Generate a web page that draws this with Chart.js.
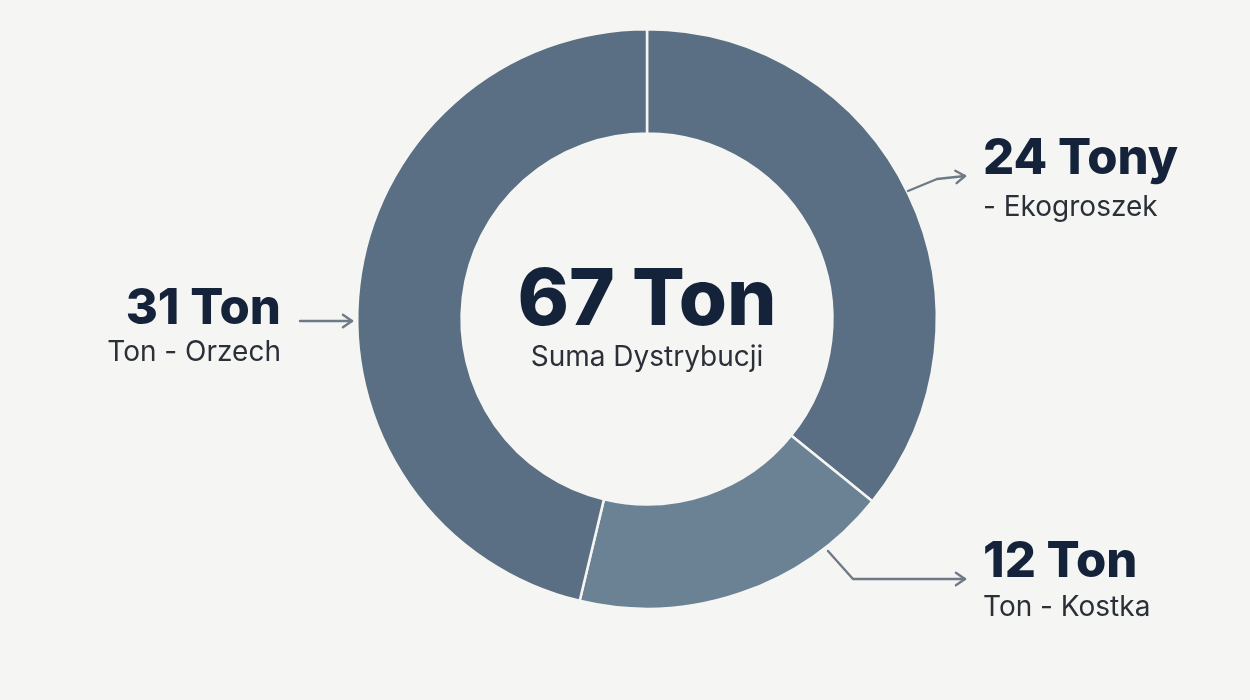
<!DOCTYPE html>
<html lang="pl">
<head>
<meta charset="utf-8">
<title>Suma Dystrybucji</title>
<script src="https://cdn.jsdelivr.net/npm/chart.js@4/dist/chart.umd.min.js"></script>
<style>
  html, body { margin: 0; padding: 0; background: #f5f5f3; }
  #wrap { position: relative; width: 1250px; height: 700px; }
</style>
</head>
<body>
<div id="wrap"><canvas id="donut"></canvas></div>
<script>
// ---- data ----
const categories  = ['Ekogroszek', 'Kostka', 'Orzech'];
const tons        = [24, 12, 31];
const valueLabels = ['24 Tony', '12 Ton', '31 Ton'];
const subLabels   = ['- Ekogroszek', 'Ton - Kostka', 'Ton - Orzech'];
const centerTitle = '67 Ton';
const centerSub   = 'Suma Dystrybucji';

// ---- look ----
const BG = '#f5f5f3';
const INK = '#15233a';
const INK_SOFT = '#2a2f38';
const ARROW = '#6e7b87';
const sliceColors = ['#5a6f83', '#6b8295', '#5a6f83'];

// callout geometry, offsets from the donut centre (px)
const callouts = [
  { path: [[261, -128], [290, -140], [318, -143]], textX: 336, align: 'left',  valueY: -145, subY: -103 },
  { path: [[181, 232], [206, 260], [318, 260]],    textX: 336, align: 'left',  valueY: 258,  subY: 297 },
  { path: [[-347, 2], [-295, 2]],                  textX: -366, align: 'right', valueY: 5,   subY: 42 },
];

function arrowHead(ctx, from, to, size) {
  const a = Math.atan2(to[1] - from[1], to[0] - from[0]);
  ctx.beginPath();
  ctx.moveTo(to[0] - size * Math.cos(a - 0.6), to[1] - size * Math.sin(a - 0.6));
  ctx.lineTo(to[0], to[1]);
  ctx.lineTo(to[0] - size * Math.cos(a + 0.6), to[1] - size * Math.sin(a + 0.6));
  ctx.stroke();
}

/* centre text + callouts with arrows */
const calloutPlugin = {
  id: 'callouts',
  afterDraw(chart) {
    const { ctx } = chart;
    const arc = chart.getDatasetMeta(0).data[0];
    const cx = arc.x, cy = arc.y;
    ctx.save();

    ctx.fillStyle = INK;
    ctx.textAlign = 'center';
    ctx.textBaseline = 'alphabetic';
    ctx.font = '800 78px Inter, sans-serif';
    ctx.fillText(centerTitle, cx, cy + 6);
    ctx.fillStyle = INK_SOFT;
    ctx.font = '400 28px Inter, sans-serif';
    ctx.fillText(centerSub, cx, cy + 47);

    callouts.forEach((c, i) => {
      const pts = c.path.map(([dx, dy]) => [cx + dx, cy + dy]);
      ctx.strokeStyle = ARROW;
      ctx.lineWidth = 2.4;
      ctx.lineJoin = 'round';
      ctx.lineCap = 'round';
      ctx.beginPath();
      pts.forEach((p, k) => (k ? ctx.lineTo(p[0], p[1]) : ctx.moveTo(p[0], p[1])));
      ctx.stroke();
      arrowHead(ctx, pts[pts.length - 2], pts[pts.length - 1], 11);

      ctx.textAlign = c.align;
      ctx.fillStyle = INK;
      ctx.font = '800 49px Inter, sans-serif';
      ctx.fillText(valueLabels[i], cx + c.textX, cy + c.valueY);
      ctx.fillStyle = INK_SOFT;
      ctx.font = '400 28px Inter, sans-serif';
      ctx.fillText(subLabels[i], cx + c.textX, cy + c.subY);
    });
    ctx.restore();
  },
};

new Chart(document.getElementById('donut'), {
  type: 'doughnut',
  data: {
    labels: categories,
    datasets: [{
      data: tons,
      backgroundColor: sliceColors,
      borderColor: BG,
      borderWidth: 2.5,
      hoverOffset: 0,
    }],
  },
  options: {
    responsive: true,
    maintainAspectRatio: false,
    animation: false,
    cutout: '64%',
    layout: { padding: { top: 28, bottom: 90, left: 44, right: 0 } },
    plugins: {
      legend: { display: false },
      tooltip: { enabled: false },
    },
  },
  plugins: [calloutPlugin],
});
</script>
</body>
</html>
